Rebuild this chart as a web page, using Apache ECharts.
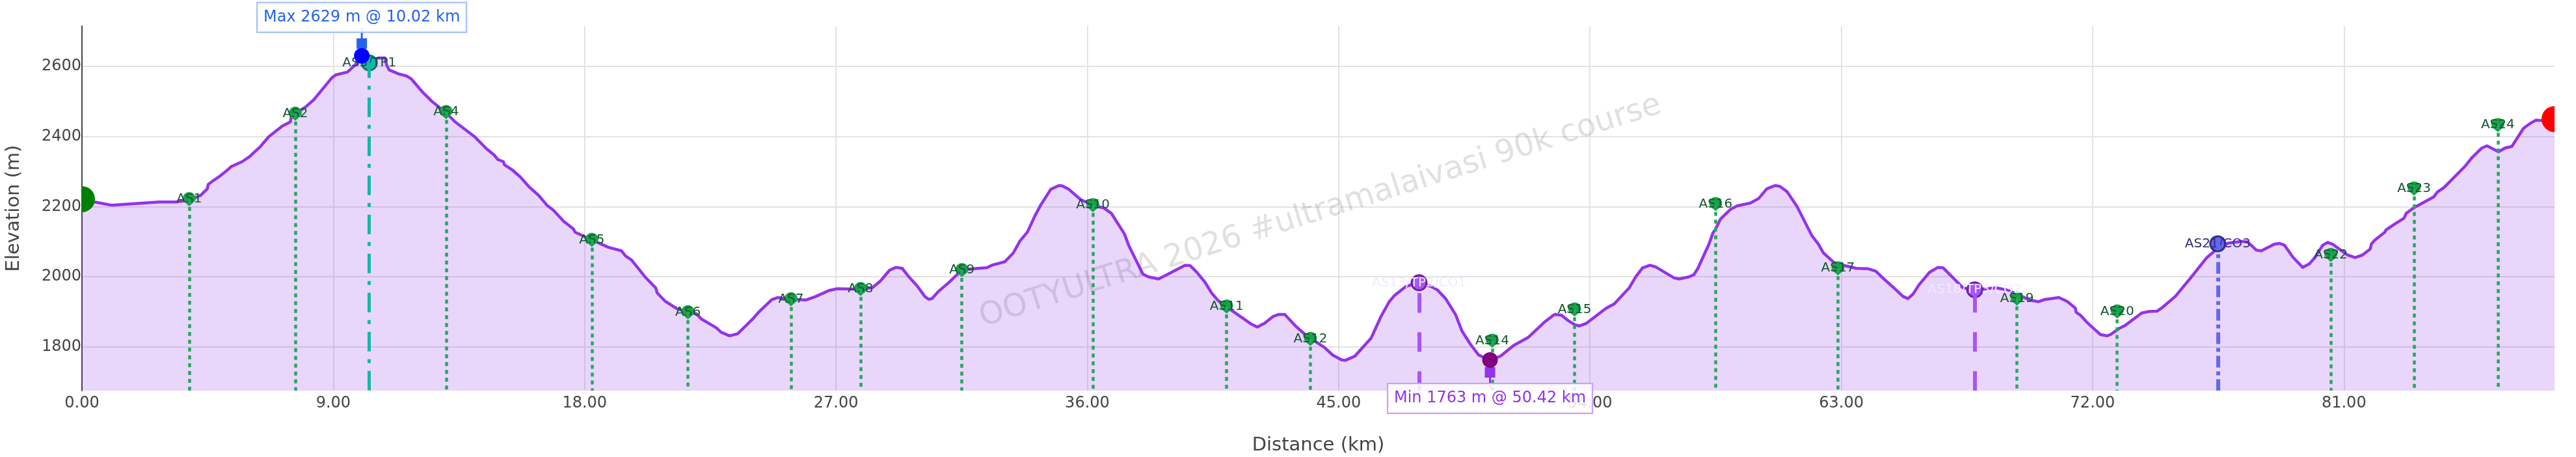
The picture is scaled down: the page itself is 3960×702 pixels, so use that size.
<!DOCTYPE html>
<html>
<head>
<meta charset="utf-8">
<title>Elevation profile</title>
<script src="https://cdn.jsdelivr.net/npm/echarts@6/dist/echarts.min.js"></script>
<style>
html,body{margin:0;padding:0;background:#fff;}
#chart{width:3960px;height:702px;}
</style>
</head>
<body>
<div id="chart"></div>
<script>
// course profile, [km, metres]
var profile = [
[0,2221],[0.45,2213],[1.05,2204],[2.17,2210],[2.77,2213],[3.36,2213],[3.84,2218],[4.25,2232],[4.49,2251],[4.52,2263],
[4.67,2272],[4.91,2285],[5.15,2300],[5.35,2314],[5.74,2328],[6.0,2342],[6.39,2371],[6.69,2399],[7.17,2429],[7.46,2441],
[7.5,2456],[7.64,2464],[8.0,2483],[8.3,2504],[8.59,2532],[8.95,2567],[9.09,2575],[9.51,2583],[9.78,2603],[10.02,2629],
[10.29,2615],[10.61,2623],[10.85,2623],[10.91,2603],[11.0,2589],[11.33,2578],[11.62,2572],[11.8,2563],[12.16,2529],[12.51,2501],
[13.04,2467],[13.35,2442],[14.06,2399],[14.48,2365],[14.77,2346],[14.89,2334],[15.09,2328],[15.13,2319],[15.43,2303],[15.7,2284],
[16.0,2257],[16.35,2232],[16.65,2204],[16.89,2189],[17.25,2158],[17.6,2136],[17.66,2127],[18.26,2105],[18.85,2084],[19.32,2074],
[19.47,2059],[19.68,2048],[20.16,2000],[20.55,1968],[20.6,1954],[20.89,1930],[21.29,1910],[21.7,1899],[22.0,1895],[22.18,1880],
[22.71,1855],[22.89,1842],[23.19,1832],[23.48,1838],[23.66,1852],[24.02,1880],[24.23,1899],[24.7,1935],[24.91,1941],[25.39,1936],
[25.92,1934],[26.28,1944],[26.75,1961],[27.05,1966],[27.58,1965],[27.88,1965],[28.3,1969],[28.59,1988],[28.92,2019],[29.15,2027],
[29.37,2024],[29.61,2000],[29.9,1975],[30.18,1944],[30.32,1936],[30.44,1938],[30.65,1957],[31.03,1983],[31.51,2019],[31.92,2023],
[32.4,2026],[32.58,2033],[33.05,2043],[33.35,2068],[33.59,2102],[33.86,2128],[34.12,2173],[34.33,2204],[34.69,2249],[34.98,2260],
[35.1,2259],[35.34,2249],[35.76,2220],[36.2,2204],[36.59,2196],[36.86,2181],[37.33,2122],[37.48,2090],[37.99,2008],[38.19,2000],
[38.55,1994],[38.85,2006],[39.5,2033],[39.68,2032],[39.92,2013],[40.21,1985],[40.45,1954],[40.69,1932],[40.99,1914],[41.34,1895],
[41.88,1865],[42.09,1857],[42.35,1868],[42.65,1887],[42.86,1893],[43.07,1893],[43.48,1858],[43.84,1833],[43.99,1825],[44.49,1799],
[44.79,1777],[45.09,1764],[45.23,1762],[45.58,1774],[46.16,1825],[46.51,1886],[46.81,1929],[46.99,1946],[47.4,1972],[47.88,1985],
[48.35,1971],[48.53,1963],[48.83,1938],[49.19,1892],[49.42,1845],[49.72,1808],[50.02,1777],[50.42,1763],[50.79,1774],[51.27,1805],
[51.78,1827],[52.4,1873],[52.73,1893],[52.97,1891],[53.21,1876],[53.45,1864],[53.62,1860],[53.86,1867],[54.57,1910],[54.87,1923],
[55.41,1969],[55.64,2000],[55.88,2025],[56.15,2033],[56.36,2028],[57.01,1997],[57.19,1994],[57.55,2000],[57.72,2006],[57.87,2025],
[58.26,2093],[58.4,2124],[58.5,2136],[58.67,2164],[59.03,2192],[59.27,2202],[59.74,2210],[60.04,2223],[60.34,2251],[60.64,2260],
[60.81,2257],[61.05,2243],[61.41,2201],[61.94,2118],[62.18,2093],[62.36,2068],[62.72,2042],[62.89,2036],[63.55,2024],[63.96,2023],
[64.24,2016],[64.44,2000],[64.85,1971],[65.21,1944],[65.39,1938],[65.57,1951],[65.78,1977],[66.16,2013],[66.46,2027],[66.64,2026],
[66.93,2003],[67.35,1969],[67.77,1963],[68.18,1966],[68.54,1969],[68.9,1963],[69.29,1951],[69.73,1934],[70.06,1929],[70.26,1935],
[70.79,1941],[71.09,1930],[71.38,1911],[71.41,1899],[71.56,1891],[71.8,1870],[72.27,1836],[72.51,1832],[72.63,1835],[72.93,1852],
[73.17,1862],[73.76,1897],[74.0,1901],[74.3,1902],[74.47,1911],[74.97,1945],[75.54,2000],[76.08,2054],[76.48,2081],[76.85,2096],
[77.33,2101],[77.56,2099],[77.86,2076],[78.04,2074],[78.51,2093],[78.69,2095],[78.87,2090],[79.17,2056],[79.52,2027],[79.76,2037],
[79.94,2053],[80.24,2090],[80.42,2098],[80.59,2093],[81.13,2062],[81.4,2055],[81.66,2062],[81.94,2079],[81.98,2093],[82.1,2104],
[82.46,2127],[82.5,2133],[82.79,2149],[83.15,2167],[83.23,2181],[83.51,2197],[84.22,2228],[84.34,2241],[84.58,2254],[85.35,2316],
[85.59,2340],[85.94,2367],[86.12,2373],[86.54,2356],[86.77,2367],[87.01,2371],[87.43,2423],[87.67,2437],[87.87,2446],[88.08,2445],
[88.54,2449]
];

// plain aid stations
var aidNames = ['AS1','AS2','AS4','AS5','AS6','AS7','AS8','AS9','AS10','AS11','AS12','AS14','AS15','AS16','AS17','AS19','AS20','AS22','AS23','AS24'];
var aidKm = [3.84,7.64,13.04,18.26,21.7,25.39,27.88,31.51,36.2,40.99,43.99,50.5,53.45,58.5,62.88,69.29,72.88,80.53,83.51,86.51];
var aidElev = [2221,2464,2469,2105,1899,1936,1965,2019,2204,1915,1823,1818,1907,2207,2024,1938,1901,2062,2251,2432];

// timing points / cut-offs
var tp1 = {name:'AS3/TP1', km:10.29, elev:2609};
var tp2 = {name:'AS13/TP2/CO1', km:47.88, elev:1983};
var tp3 = {name:'AS18/TP3/CO2', km:67.78, elev:1963};
var co3 = {name:'AS21/CO3', km:76.48, elev:2094};

var startPoint = [0,2221];
var finishPoint = [88.54,2449];
var maxPoint = [10.02,2629];
var minPoint = [50.42,1763];
var maxText = 'Max 2629 m @ 10.02 km';
var minText = 'Min 1763 m @ 50.42 km';
var watermark = 'OOTYULTRA 2026 #ultramalaivasi 90k course';

var xTicks = [0,9,18,27,36,45,54,63,72,81];
var yTicks = [1800,2000,2200,2400,2600];
var xMin = 0, xMax = 88.54, yMin = 1676, yMax = 2714;

var FONT = '"DejaVu Sans", sans-serif';
var pin = 'path://M10 0A10 10 0 0 1 20 10C20 15 13 18 10 22C7 18 0 15 0 10A10 10 0 0 1 10 0Z';
// start and finish sit on the plot edge, only the inner half shows
var halfRight = 'path://M0 0A20 20 0 0 1 0 40Z';
var halfLeft = 'path://M20 0A20 20 0 0 0 20 40Z';

function drop(km, elev, color, width, dash, offset){
    return [
        {coord:[km,elev], lineStyle:{color:color, width:width, type:dash, dashOffset:offset||0}},
        {coord:[km,yMin]}
    ];
}

var drops = [];
for(var i=0;i<aidKm.length;i++){
    drops.push(drop(aidKm[i],aidElev[i],'#25a85c',4.5,[6,6],0));
}
drops.push(drop(tp1.km,tp1.elev,'#14b8a6',5,[30,12,6,12],7));
drops.push(drop(tp2.km,tp2.elev,'#a855f7',6,[30,30],44));
drops.push(drop(tp3.km,tp3.elev,'#a855f7',6,[30,30],55));
drops.push(drop(co3.km,co3.elev,'#6366f1',6,[18,6,6,6],8));

var aidData = [];
for(var j=0;j<aidKm.length;j++){
    aidData.push({value:[aidKm[j],aidElev[j]], name:aidNames[j]});
}

function special(p, fill, border, textColor){
    return {
        type:'scatter', z:4, symbolSize:23, clip:false,
        data:[{value:[p.km,p.elev], name:p.name}],
        itemStyle:{color:fill, borderColor:border, borderWidth:3, opacity:1},
        label:{show:true, position:'inside', formatter:'{b}', color:textColor, fontSize:20, fontFamily:FONT}
    };
}

var chart = echarts.init(document.getElementById('chart'));
chart.setOption({
    animation:false,
    backgroundColor:'#fff',
    grid:{left:126, right:33, top:40, bottom:102, containLabel:false, outerBoundsMode:'none'},
    graphic:[{
        type:'text', z:10, x:2030, y:325, rotation:0.305, silent:true,
        style:{text:watermark, fontSize:48, fontFamily:FONT, fill:'rgba(70,70,90,0.17)', textAlign:'center', textVerticalAlign:'middle'}
    }],
    xAxis:{
        type:'value', min:xMin, max:xMax,
        name:'Distance (km)', nameLocation:'middle', nameGap:70,
        nameTextStyle:{fontSize:29, color:'#444', fontFamily:FONT},
        axisLine:{show:false},
        axisTick:{show:false, customValues:xTicks},
        axisLabel:{customValues:xTicks, margin:8, fontSize:24, color:'#444', fontFamily:FONT,
            formatter:function(v){return v.toFixed(2);}},
        splitLine:{show:true, showMinLine:true, lineStyle:{color:'#e3e3e3', width:2}}
    },
    yAxis:{
        type:'value', min:yMin, max:yMax,
        name:'Elevation (m)', nameLocation:'middle', nameGap:90,
        nameTextStyle:{fontSize:29, color:'#444', fontFamily:FONT},
        axisLine:{show:true, lineStyle:{color:'#444', width:2}},
        axisTick:{show:false, customValues:yTicks},
        axisLabel:{customValues:yTicks, margin:1, fontSize:24, color:'#444', fontFamily:FONT, padding:[6,0,0,0],
            formatter:function(v){return String(v);}},
        splitLine:{show:true, lineStyle:{color:'#e3e3e3', width:2}}
    },
    series:[
        {
            type:'line', z:2, data:profile, smooth:false, showSymbol:false,
            lineStyle:{color:'#9333ea', width:4.5, join:'round'},
            areaStyle:{color:'#9333ea', opacity:0.2, origin:'start'}
        },
        {
            type:'scatter', z:3, data:[],
            markLine:{silent:true, symbol:['none','none'], label:{show:false}, animation:false, data:drops}
        },
        {
            type:'scatter', z:4, data:aidData, symbol:pin, symbolSize:[20,22], clip:false,
            itemStyle:{color:'#16a34a', opacity:1},
            label:{show:true, position:'inside', formatter:'{b}', color:'#14532d', fontSize:20, fontFamily:FONT}
        },
        special(tp1,'#14b8a6','#0f766e','#134e4a'),
        special(tp2,'#a855f7','#6b21a8','#f3e8ff'),
        special(tp3,'#a855f7','#6b21a8','#f3e8ff'),
        special(co3,'#6366f1','#312e81','#312e81'),
        {type:'scatter', z:5, data:[startPoint], symbol:halfRight, symbolSize:[20,40], symbolOffset:[10,0], clip:false, itemStyle:{color:'#008000', opacity:1}},
        {type:'scatter', z:5, data:[finishPoint], symbol:halfLeft, symbolSize:[20,40], symbolOffset:[-10,0], clip:false, itemStyle:{color:'#ff0000', opacity:1}},
        // arrows to the max / min boxes
        {type:'scatter', z:5, data:[maxPoint], symbol:'rect', symbolSize:[3,36], symbolOffset:[0,-25], clip:false, itemStyle:{color:'#2563eb', opacity:1}},
        {type:'scatter', z:5, data:[maxPoint], symbol:'rect', symbolSize:[16,16], symbolOffset:[0,-19], clip:false, itemStyle:{color:'#2563eb', opacity:1}},
        {type:'scatter', z:5, data:[minPoint], symbol:'rect', symbolSize:[3,36], symbolOffset:[0,25], clip:false, itemStyle:{color:'#9333ea', opacity:1}},
        {type:'scatter', z:5, data:[minPoint], symbol:'rect', symbolSize:[16,16], symbolOffset:[0,19], clip:false, itemStyle:{color:'#9333ea', opacity:1}},
        {
            type:'scatter', z:6, data:[maxPoint], symbolSize:24, clip:false, itemStyle:{color:'#0000ff', opacity:1},
            label:{show:true, position:'inside', offset:[0,-59], formatter:maxText, color:'#2563eb', fontSize:24, fontFamily:FONT,
                backgroundColor:'rgba(255,255,255,0.85)', borderColor:'#a3bff7', borderWidth:2, padding:[10,9]}
        },
        {
            type:'scatter', z:6, data:[minPoint], symbolSize:24, clip:false, itemStyle:{color:'#800080', opacity:1},
            label:{show:true, position:'inside', offset:[0,59], formatter:minText, color:'#9333ea', fontSize:24, fontFamily:FONT,
                backgroundColor:'rgba(255,255,255,0.85)', borderColor:'#c9a0f7', borderWidth:2, padding:[10,9]}
        }
    ]
});
</script>
</body>
</html>
